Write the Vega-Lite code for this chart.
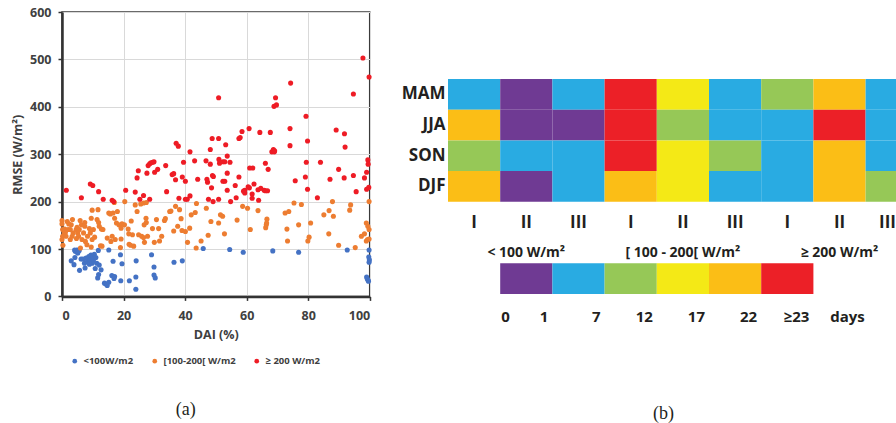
{
  "$schema": "https://vega.github.io/schema/vega-lite/v6.json",
  "padding": {"left": 10, "top": 5, "right": 0, "bottom": 0},
  "background": "white",
  "config": {"view": {"stroke": null}, "font": "Open Sans"},
  "spacing": 28,
  "resolve": {"scale": {"color": "independent"}, "legend": {"color": "independent"}},
  "datasets": {
    "low": [
      {"dai":3,"rmse":75},{"dai":3.9,"rmse":67},{"dai":4.1,"rmse":98},{"dai":4.3,"rmse":95},{"dai":4.7,"rmse":97},{"dai":5,"rmse":98},{"dai":5.4,"rmse":97},{"dai":5.1,"rmse":91},{"dai":5.6,"rmse":97},{"dai":4.2,"rmse":82},{"dai":5.7,"rmse":55},{"dai":6.2,"rmse":79},{"dai":6.8,"rmse":79},{"dai":7.3,"rmse":70},{"dai":7.5,"rmse":60},{"dai":7.8,"rmse":81},{"dai":8.2,"rmse":73},{"dai":8.7,"rmse":84},{"dai":8.9,"rmse":68},{"dai":9.2,"rmse":77},{"dai":9.4,"rmse":87},{"dai":9.8,"rmse":70},{"dai":10,"rmse":82},{"dai":10.2,"rmse":75},{"dai":10.5,"rmse":89},{"dai":10.8,"rmse":59},{"dai":11,"rmse":82},{"dai":11.3,"rmse":70},{"dai":11.6,"rmse":39},{"dai":11.9,"rmse":46},{"dai":11.8,"rmse":97},{"dai":12.1,"rmse":66},{"dai":12.7,"rmse":56},{"dai":13.8,"rmse":28},{"dai":14.3,"rmse":26},{"dai":14.7,"rmse":23},{"dai":15.2,"rmse":30},{"dai":15.2,"rmse":98},{"dai":16.2,"rmse":44},{"dai":16.6,"rmse":74},{"dai":16.9,"rmse":38},{"dai":17.1,"rmse":42},{"dai":19,"rmse":88},{"dai":19.1,"rmse":33},{"dai":19.5,"rmse":69},{"dai":21.9,"rmse":33},{"dai":24.1,"rmse":75},{"dai":24,"rmse":41},{"dai":24,"rmse":15},{"dai":29.1,"rmse":88},{"dai":29.9,"rmse":62},{"dai":29.9,"rmse":45},{"dai":30.3,"rmse":39},{"dai":36.4,"rmse":72},{"dai":39.1,"rmse":75},{"dai":45.9,"rmse":101},{"dai":54.5,"rmse":99},{"dai":58.9,"rmse":93},{"dai":68.5,"rmse":96},{"dai":76.9,"rmse":93},{"dai":92.7,"rmse":98},{"dai":99.8,"rmse":98},{"dai":99.7,"rmse":83},{"dai":99.9,"rmse":77},{"dai":99.8,"rmse":72},{"dai":99,"rmse":41},{"dai":99.2,"rmse":37},{"dai":99.5,"rmse":34},{"dai":99.6,"rmse":32}
    ],
    "mid": [
      {"dai":0,"rmse":160},{"dai":0,"rmse":153},{"dai":0.2,"rmse":141},{"dai":0.7,"rmse":134},{"dai":0.2,"rmse":127},{"dai":0,"rmse":120},{"dai":0.3,"rmse":108},{"dai":0.9,"rmse":142},{"dai":1.1,"rmse":135},{"dai":1.3,"rmse":127},{"dai":1.7,"rmse":158},{"dai":2,"rmse":141},{"dai":2.2,"rmse":153},{"dai":2.7,"rmse":120},{"dai":3,"rmse":151},{"dai":3.4,"rmse":162},{"dai":3.6,"rmse":134},{"dai":3.3,"rmse":127},{"dai":2.7,"rmse":141},{"dai":4.6,"rmse":141},{"dai":4.9,"rmse":146},{"dai":5.1,"rmse":134},{"dai":5.4,"rmse":127},{"dai":4.7,"rmse":122},{"dai":5.6,"rmse":141},{"dai":5.9,"rmse":160},{"dai":6.3,"rmse":151},{"dai":6.5,"rmse":120},{"dai":6,"rmse":102},{"dai":7,"rmse":134},{"dai":7.4,"rmse":156},{"dai":7.4,"rmse":148},{"dai":7.6,"rmse":116},{"dai":8.1,"rmse":109},{"dai":8.3,"rmse":127},{"dai":8.9,"rmse":143},{"dai":9.2,"rmse":134},{"dai":9.5,"rmse":165},{"dai":9.8,"rmse":182},{"dai":9.8,"rmse":120},{"dai":9.5,"rmse":104},{"dai":10.2,"rmse":141},{"dai":10.6,"rmse":125},{"dai":11.4,"rmse":162},{"dai":11.7,"rmse":183},{"dai":11.9,"rmse":156},{"dai":12.1,"rmse":148},{"dai":12.8,"rmse":142},{"dai":12.5,"rmse":107},{"dai":13,"rmse":106},{"dai":13.3,"rmse":141},{"dai":14.7,"rmse":123},{"dai":15.2,"rmse":176},{"dai":15.7,"rmse":174},{"dai":15.9,"rmse":116},{"dai":16.3,"rmse":127},{"dai":16.6,"rmse":176},{"dai":17,"rmse":198},{"dai":17.1,"rmse":165},{"dai":17.3,"rmse":120},{"dai":17.7,"rmse":155},{"dai":18,"rmse":179},{"dai":18.5,"rmse":151},{"dai":19,"rmse":103},{"dai":19.2,"rmse":121},{"dai":19.2,"rmse":144},{"dai":19.5,"rmse":153},{"dai":20.3,"rmse":151},{"dai":20.4,"rmse":200},{"dai":21.5,"rmse":142},{"dai":21.7,"rmse":132},{"dai":21.8,"rmse":110},{"dai":22.3,"rmse":108},{"dai":22.5,"rmse":159},{"dai":22.9,"rmse":130},{"dai":23.3,"rmse":106},{"dai":23.8,"rmse":193},{"dai":24.4,"rmse":179},{"dai":24.9,"rmse":130},{"dai":25.6,"rmse":195},{"dai":25.9,"rmse":127},{"dai":26.5,"rmse":197},{"dai":26.5,"rmse":124},{"dai":26.7,"rmse":151},{"dai":27.3,"rmse":165},{"dai":27.4,"rmse":156},{"dai":27.4,"rmse":198},{"dai":27.8,"rmse":127},{"dai":26.8,"rmse":114},{"dai":29.4,"rmse":143},{"dai":30,"rmse":114},{"dai":30.7,"rmse":162},{"dai":31.4,"rmse":143},{"dai":31.7,"rmse":117},{"dai":32.4,"rmse":127},{"dai":33.3,"rmse":160},{"dai":33.6,"rmse":164},{"dai":35,"rmse":179},{"dai":35.4,"rmse":180},{"dai":36.3,"rmse":138},{"dai":36.9,"rmse":190},{"dai":37.6,"rmse":148},{"dai":38.2,"rmse":183},{"dai":38.7,"rmse":164},{"dai":39,"rmse":139},{"dai":40.1,"rmse":137},{"dai":40.8,"rmse":114},{"dai":41.5,"rmse":144},{"dai":42,"rmse":172},{"dai":43.3,"rmse":177},{"dai":43.7,"rmse":196},{"dai":43.6,"rmse":102},{"dai":45.2,"rmse":117},{"dai":46.9,"rmse":186},{"dai":47.5,"rmse":129},{"dai":48.4,"rmse":158},{"dai":50.9,"rmse":155},{"dai":51.5,"rmse":172},{"dai":52.2,"rmse":169},{"dai":52.8,"rmse":132},{"dai":56.9,"rmse":161},{"dai":58.7,"rmse":190},{"dai":60.3,"rmse":186},{"dai":61.2,"rmse":141},{"dai":63.7,"rmse":181},{"dai":66.2,"rmse":145},{"dai":66.4,"rmse":151},{"dai":66.5,"rmse":155},{"dai":66.6,"rmse":163},{"dai":72.5,"rmse":176},{"dai":73.1,"rmse":142},{"dai":73.3,"rmse":117},{"dai":73.7,"rmse":179},{"dai":75.4,"rmse":197},{"dai":76.9,"rmse":151},{"dai":77.8,"rmse":194},{"dai":79.9,"rmse":117},{"dai":80.3,"rmse":125},{"dai":80.8,"rmse":155},{"dai":85.1,"rmse":172},{"dai":86.7,"rmse":132},{"dai":86.8,"rmse":181},{"dai":87.9,"rmse":200},{"dai":88.2,"rmse":169},{"dai":89.9,"rmse":108},{"dai":93.5,"rmse":182},{"dai":93.8,"rmse":193},{"dai":95.3,"rmse":103},{"dai":97.3,"rmse":127},{"dai":98.3,"rmse":132},{"dai":98.9,"rmse":155},{"dai":98.9,"rmse":117},{"dai":99.3,"rmse":120},{"dai":99.4,"rmse":148},{"dai":99.8,"rmse":141},{"dai":99.8,"rmse":200},{"dai":99.8,"rmse":121}
    ],
    "high": [
      {"dai":1.4,"rmse":224},{"dai":6.3,"rmse":208},{"dai":9.2,"rmse":237},{"dai":10,"rmse":234},{"dai":11.9,"rmse":221},{"dai":13.4,"rmse":205},{"dai":16.3,"rmse":203},{"dai":16.8,"rmse":200},{"dai":20.7,"rmse":224},{"dai":23.8,"rmse":220},{"dai":24.4,"rmse":250},{"dai":24.8,"rmse":265},{"dai":25.3,"rmse":205},{"dai":26.5,"rmse":213},{"dai":27.6,"rmse":260},{"dai":28,"rmse":276},{"dai":28.5,"rmse":280},{"dai":28.9,"rmse":282},{"dai":29.5,"rmse":283},{"dai":29.9,"rmse":284},{"dai":28.5,"rmse":205},{"dai":30.1,"rmse":262},{"dai":31.1,"rmse":268},{"dai":33.7,"rmse":276},{"dai":34,"rmse":221},{"dai":35.8,"rmse":257},{"dai":36.3,"rmse":259},{"dai":36.9,"rmse":246},{"dai":37.1,"rmse":323},{"dai":37.8,"rmse":317},{"dai":38,"rmse":207},{"dai":39.1,"rmse":252},{"dai":39.5,"rmse":283},{"dai":40.1,"rmse":243},{"dai":40.1,"rmse":205},{"dai":40.7,"rmse":205},{"dai":41.6,"rmse":305},{"dai":41.6,"rmse":212},{"dai":43.1,"rmse":286},{"dai":44.1,"rmse":247},{"dai":46.8,"rmse":286},{"dai":47.1,"rmse":247},{"dai":47.3,"rmse":241},{"dai":47.6,"rmse":205},{"dai":48.2,"rmse":310},{"dai":48.2,"rmse":279},{"dai":48.8,"rmse":333},{"dai":48.9,"rmse":255},{"dai":49.2,"rmse":253},{"dai":48.6,"rmse":229},{"dai":49.1,"rmse":200},{"dai":50.9,"rmse":419},{"dai":50.9,"rmse":333},{"dai":51,"rmse":289},{"dai":51.2,"rmse":281},{"dai":50.9,"rmse":205},{"dai":52.3,"rmse":284},{"dai":52.9,"rmse":284},{"dai":52.3,"rmse":243},{"dai":52.9,"rmse":243},{"dai":53.2,"rmse":320},{"dai":53.7,"rmse":296},{"dai":53.7,"rmse":260},{"dai":53.7,"rmse":224},{"dai":54.6,"rmse":283},{"dai":54.8,"rmse":200},{"dai":56.3,"rmse":234},{"dai":56.6,"rmse":208},{"dai":57.5,"rmse":252},{"dai":57.5,"rmse":333},{"dai":57.9,"rmse":335},{"dai":58.5,"rmse":348},{"dai":59,"rmse":222},{"dai":59.4,"rmse":224},{"dai":59.4,"rmse":218},{"dai":60.5,"rmse":231},{"dai":60.9,"rmse":229},{"dai":60.8,"rmse":354},{"dai":61,"rmse":271},{"dai":62,"rmse":271},{"dai":61.8,"rmse":216},{"dai":61.8,"rmse":207},{"dai":62.4,"rmse":237},{"dai":63.7,"rmse":225},{"dai":63.9,"rmse":203},{"dai":64.3,"rmse":346},{"dai":64.6,"rmse":228},{"dai":65.7,"rmse":224},{"dai":66.1,"rmse":281},{"dai":66.1,"rmse":223},{"dai":66.8,"rmse":223},{"dai":67,"rmse":268},{"dai":67.7,"rmse":346},{"dai":68.2,"rmse":305},{"dai":68.7,"rmse":310},{"dai":69,"rmse":305},{"dai":69.1,"rmse":307},{"dai":68.9,"rmse":401},{"dai":69.7,"rmse":404},{"dai":69.4,"rmse":419},{"dai":74.3,"rmse":450},{"dai":74.1,"rmse":354},{"dai":74.1,"rmse":318},{"dai":75.8,"rmse":244},{"dai":79.1,"rmse":252},{"dai":79.3,"rmse":380},{"dai":79.4,"rmse":283},{"dai":79.8,"rmse":328},{"dai":79.8,"rmse":226},{"dai":83,"rmse":208},{"dai":84,"rmse":283},{"dai":87.1,"rmse":247},{"dai":89.1,"rmse":351},{"dai":89.9,"rmse":268},{"dai":91.7,"rmse":250},{"dai":91.8,"rmse":343},{"dai":92,"rmse":315},{"dai":94.7,"rmse":427},{"dai":94.7,"rmse":255},{"dai":95.6,"rmse":221},{"dai":97.8,"rmse":503},{"dai":98.3,"rmse":250},{"dai":99,"rmse":262},{"dai":99.4,"rmse":288},{"dai":99.5,"rmse":279},{"dai":99,"rmse":226},{"dai":99.7,"rmse":230},{"dai":99.8,"rmse":463}
    ],
    "cells": [
      {"season":"MAM","col":"L-I","dekad":"I","days":"1-7"},{"season":"MAM","col":"L-II","dekad":"II","days":"0-1"},{"season":"MAM","col":"L-III","dekad":"III","days":"1-7"},{"season":"MAM","col":"M-I","dekad":"I","days":"≥23"},{"season":"MAM","col":"M-II","dekad":"II","days":"12-17"},{"season":"MAM","col":"M-III","dekad":"III","days":"1-7"},{"season":"MAM","col":"H-I","dekad":"I","days":"7-12"},{"season":"MAM","col":"H-II","dekad":"II","days":"17-22"},{"season":"MAM","col":"H-III","dekad":"III","days":"1-7"},
      {"season":"JJA","col":"L-I","dekad":"I","days":"17-22"},{"season":"JJA","col":"L-II","dekad":"II","days":"0-1"},{"season":"JJA","col":"L-III","dekad":"III","days":"0-1"},{"season":"JJA","col":"M-I","dekad":"I","days":"≥23"},{"season":"JJA","col":"M-II","dekad":"II","days":"7-12"},{"season":"JJA","col":"M-III","dekad":"III","days":"1-7"},{"season":"JJA","col":"H-I","dekad":"I","days":"1-7"},{"season":"JJA","col":"H-II","dekad":"II","days":"≥23"},{"season":"JJA","col":"H-III","dekad":"III","days":"1-7"},
      {"season":"SON","col":"L-I","dekad":"I","days":"7-12"},{"season":"SON","col":"L-II","dekad":"II","days":"1-7"},{"season":"SON","col":"L-III","dekad":"III","days":"1-7"},{"season":"SON","col":"M-I","dekad":"I","days":"≥23"},{"season":"SON","col":"M-II","dekad":"II","days":"12-17"},{"season":"SON","col":"M-III","dekad":"III","days":"7-12"},{"season":"SON","col":"H-I","dekad":"I","days":"1-7"},{"season":"SON","col":"H-II","dekad":"II","days":"17-22"},{"season":"SON","col":"H-III","dekad":"III","days":"1-7"},
      {"season":"DJF","col":"L-I","dekad":"I","days":"17-22"},{"season":"DJF","col":"L-II","dekad":"II","days":"0-1"},{"season":"DJF","col":"L-III","dekad":"III","days":"1-7"},{"season":"DJF","col":"M-I","dekad":"I","days":"17-22"},{"season":"DJF","col":"M-II","dekad":"II","days":"12-17"},{"season":"DJF","col":"M-III","dekad":"III","days":"1-7"},{"season":"DJF","col":"H-I","dekad":"I","days":"1-7"},{"season":"DJF","col":"H-II","dekad":"II","days":"17-22"},{"season":"DJF","col":"H-III","dekad":"III","days":"7-12"}
    ],
    "groups": [
      {"col":"L-II","label":"< 100 W/m²"},
      {"col":"M-II","label":"[ 100 - 200[ W/m²"},
      {"col":"H-II","label":"≥ 200 W/m²"}
    ],
    "scale": [
      {"col":"L-II","days":"0-1","end":"1"},
      {"col":"L-III","days":"1-7","end":"7"},
      {"col":"M-I","days":"7-12","end":"12"},
      {"col":"M-II","days":"12-17","end":"17"},
      {"col":"M-III","days":"17-22","end":"22"},
      {"col":"H-I","days":"≥23","end":"≥23"}
    ]
  },
  "hconcat": [
    {
      "width": 307.7,
      "height": 284.4,
      "view": {"stroke": "#3a3a3a", "strokeWidth": 1.5},
      "title": {"text": "(a)", "orient": "bottom", "anchor": "middle", "frame": "group", "dx": -30, "offset": 35, "font": "Liberation Serif", "fontSize": 18, "fontWeight": "normal", "color": "#231f20"},
      "layer": [
        {
          "data": {"name": "low"},
          "mark": {"type": "circle", "size": 26, "opacity": 1},
          "encoding": {
            "x": {"field": "dai", "type": "quantitative", "scale": {"domain": [0, 100], "nice": false},
              "axis": {"values": [0, 20, 40, 60, 80, 100], "title": "DAI (%)", "grid": true, "gridColor": "#d9d9d9", "gridWidth": 1, "domainColor": "#333333", "domainWidth": 2.5, "tickColor": "#333333", "tickSize": 4, "tickWidth": 1.5, "labelFont": "Open Sans", "labelFontWeight": "bold", "labelFontSize": 12.5, "labelColor": "#404040", "labelPadding": 9, "titleFont": "Open Sans", "titleFontWeight": "bold", "titleFontSize": 12.5, "titleColor": "#404040", "titlePadding": 7}},
            "y": {"field": "rmse", "type": "quantitative", "scale": {"domain": [0, 600], "nice": false},
              "axis": {"values": [0, 100, 200, 300, 400, 500, 600], "title": "RMSE (W/m²)", "grid": true, "gridColor": "#d9d9d9", "gridWidth": 1, "domainColor": "#333333", "domainWidth": 2.5, "tickColor": "#333333", "tickSize": 4, "tickWidth": 1.5, "labelFont": "Open Sans", "labelFontWeight": "bold", "labelFontSize": 12.5, "labelColor": "#404040", "labelPadding": 7, "titleFont": "Open Sans", "titleFontWeight": "bold", "titleFontSize": 12.5, "titleColor": "#404040", "titlePadding": 5}},
            "color": {"datum": "<100W/m2", "type": "nominal",
              "scale": {"domain": ["<100W/m2", "[100-200[ W/m2", "≥ 200 W/m2"], "range": ["#4472c4", "#ed7d31", "#ee1c25"]},
              "legend": {"orient": "none", "legendX": 8, "legendY": 344, "direction": "horizontal", "title": null, "symbolType": "circle", "symbolSize": 22, "symbolStrokeWidth": 0, "labelFont": "Open Sans", "labelFontWeight": "bold", "labelFontSize": 9.5, "labelColor": "#404040", "labelOffset": 4, "columnPadding": 16}}
          }
        },
        {
          "data": {"name": "mid"},
          "mark": {"type": "circle", "size": 26, "opacity": 1},
          "encoding": {
            "x": {"field": "dai", "type": "quantitative"},
            "y": {"field": "rmse", "type": "quantitative"},
            "color": {"datum": "[100-200[ W/m2", "type": "nominal"}
          }
        },
        {
          "data": {"name": "high"},
          "mark": {"type": "circle", "size": 26, "opacity": 1},
          "encoding": {
            "x": {"field": "dai", "type": "quantitative"},
            "y": {"field": "rmse", "type": "quantitative"},
            "color": {"datum": "≥ 200 W/m2", "type": "nominal"}
          }
        }
      ]
    },
    {
      "width": 449,
      "height": 313,
      "title": {"text": "(b)", "orient": "bottom", "anchor": "middle", "frame": "group", "dx": -9, "offset": 80, "font": "Liberation Serif", "fontSize": 18, "fontWeight": "normal", "color": "#231f20"},
      "layer": [
        {
          "data": {"name": "cells"},
          "mark": {"type": "rect", "clip": true},
          "encoding": {
            "x": {"field": "col", "type": "nominal", "scale": {"domain": ["L-I", "L-II", "L-III", "M-I", "M-II", "M-III", "H-I", "H-II", "H-III"], "range": [0, 469.8], "paddingInner": 0, "paddingOuter": 0}, "axis": null},
            "y": {"field": "season", "type": "nominal", "scale": {"domain": ["MAM", "JJA", "SON", "DJF", "dekad row", "class row", "scale row", "days row"], "range": [67, 312.6], "paddingInner": 0, "paddingOuter": 0},
              "axis": {"values": ["MAM", "JJA", "SON", "DJF"], "title": null, "domain": false, "ticks": false, "tickSize": 0, "labelPadding": 3, "labelFont": "Open Sans", "labelFontWeight": "bold", "labelFontSize": 17, "labelColor": "#231f20"}},
            "color": {"field": "days", "type": "nominal", "scale": {"domain": ["0-1", "1-7", "7-12", "12-17", "17-22", "≥23"], "range": ["#6f3a93", "#29abe2", "#96c857", "#f4e916", "#fbbe16", "#ec2027"]}, "legend": null}
          }
        },
        {
          "data": {"name": "cells"},
          "transform": [{"filter": "datum.season === 'MAM' && datum.col !== 'H-III'"}],
          "mark": {"type": "text", "font": "Open Sans", "fontWeight": "bold", "fontSize": 17, "color": "#231f20", "dy": 6},
          "encoding": {
            "x": {"field": "col", "type": "nominal"},
            "y": {"datum": "dekad row", "type": "nominal"},
            "text": {"field": "dekad"}
          }
        },
        {
          "data": {"name": "cells"},
          "transform": [{"filter": "datum.season === 'MAM' && datum.col === 'H-III'"}],
          "mark": {"type": "text", "font": "Open Sans", "fontWeight": "bold", "fontSize": 17, "color": "#231f20", "align": "right", "dx": -1, "dy": 6},
          "encoding": {
            "x": {"field": "col", "type": "nominal", "bandPosition": 0.6},
            "y": {"datum": "dekad row", "type": "nominal"},
            "text": {"field": "dekad"}
          }
        },
        {
          "data": {"name": "groups"},
          "mark": {"type": "text", "font": "Open Sans", "fontWeight": "bold", "fontSize": 14, "color": "#231f20", "dy": 5},
          "encoding": {
            "x": {"field": "col", "type": "nominal"},
            "y": {"datum": "class row", "type": "nominal"},
            "text": {"field": "label"}
          }
        },
        {
          "data": {"name": "scale"},
          "mark": {"type": "rect"},
          "encoding": {
            "x": {"field": "col", "type": "nominal"},
            "y": {"datum": "scale row", "type": "nominal"},
            "color": {"field": "days", "type": "nominal", "legend": null}
          }
        },
        {
          "data": {"name": "scale"},
          "mark": {"type": "text", "font": "Open Sans", "fontWeight": "bold", "fontSize": 15, "color": "#231f20", "align": "right", "dx": -4, "dy": 8},
          "encoding": {
            "x": {"field": "col", "type": "nominal", "bandPosition": 1},
            "y": {"datum": "days row", "type": "nominal"},
            "text": {"field": "end"}
          }
        },
        {
          "data": {"values": [{"col": "L-II", "label": "0"}]},
          "mark": {"type": "text", "font": "Open Sans", "fontWeight": "bold", "fontSize": 15, "color": "#231f20", "align": "left", "dx": 1, "dy": 8},
          "encoding": {
            "x": {"field": "col", "type": "nominal", "bandPosition": 0},
            "y": {"datum": "days row", "type": "nominal"},
            "text": {"field": "label"}
          }
        },
        {
          "data": {"values": [{"col": "H-II", "label": "days"}]},
          "mark": {"type": "text", "font": "Open Sans", "fontWeight": "bold", "fontSize": 15, "color": "#231f20", "dx": 8, "dy": 8},
          "encoding": {
            "x": {"field": "col", "type": "nominal"},
            "y": {"datum": "days row", "type": "nominal"},
            "text": {"field": "label"}
          }
        }
      ]
    }
  ]
}
